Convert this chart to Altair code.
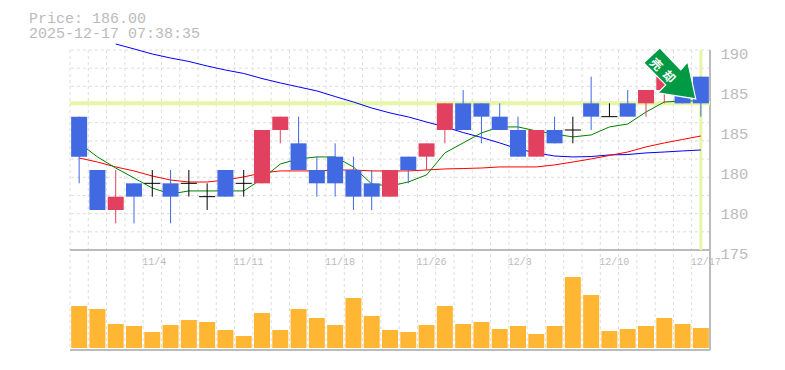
import altair as alt
import pandas as pd

body_top = [185,181,179,180,180,180,180,179,181,180,184,185,183,181,182,181,180,181,182,183,186,186,186,185,184,184,184,184,186,185,186,187,188,187,188]
body_bot = [182,178,178,179,180,179,180,179,179,180,180,184,181,180,180,179,179,179,181,182,184,184,185,184,182,182,183,184,185,185,185,186,187,186,186]
highs    = [185,181,181,180,181,181,181,180,181,181,184,185,185,182,183,182,181,181,182,183,186,187,186,186,185,184,185,185,188,186,187,187,188,187,188]
lows     = [180,178,177,177,179,177,179,178,179,179,180,183,181,179,179,178,178,179,180,181,183,184,183,184,182,182,183,183,184,185,185,185,186,186,185]
kinds    = ["d","d","u","d","n","d","n","n","d","n","u","u","d","d","d","d","d","u","d","u","u","d","d","d","d","u","d","n","d","n","d","u","u","d","d"]

ma_blue = [None,None,190.45,190.08,189.7,189.4,189.14,188.8,188.5,188.24,187.86,187.53,187.23,186.93,186.51,186.1,185.65,185.28,184.98,184.6,184.23,183.81,183.44,183.03,182.58,182.28,182.05,181.98,182.01,182.13,182.16,182.28,182.35,182.43,182.5]
ma_red = [181.9,181.6,181.23,180.93,180.55,180.25,180.1,180.1,180.25,180.48,180.78,180.93,180.93,180.93,181,181,180.93,180.93,180.93,181,181.08,181.11,181.15,181.23,181.23,181.23,181.38,181.6,181.83,182.09,182.35,182.73,183.03,183.29,183.55]
ma_green = [183.03,181.98,181.15,180.4,179.65,179.2,179.43,179.43,179.43,179.43,180.33,181.45,181.83,181.98,181.98,181.23,179.95,179.8,180.1,180.63,182.28,183.03,183.78,184.23,184.23,183.93,183.7,183.48,183.63,184.23,184.45,185.35,186.1,186.18,186.18]
volumes = [42,39,24,22,16,23,28,26,18,12,35,18,39,30,23,50,32,18,16,23,42,24,26,19,22,14,22,71,53,17,19,22,30,24,20]

date_pos = [4,9,14,19,24,29,34]
date_labels = ["11/4","11/11","11/18","11/26","12/3","12/10","12/17"]
price_ticks = [190,187,184,181,178,175]
price_labels = ["190","185","185","180","180","175"]
grid_levels = [175 + 15*k/11 for k in range(12)]
header = ["Price: 186.00","2025-12-17 07:38:35"]
last_price = 186
GRAY = "#bbbbbb"; GRID = "#dddddd"; FONT = "Liberation Mono"
BLUE = "#4169e1"; RED = "#e2405f"; ORANGE = "#ffb733"; LIME = "#e6f5a8"

n = len(kinds)
df = pd.DataFrame({"c": [i+0.5 for i in range(n)], "x0": [i+0.06 for i in range(n)], "x1": [i+0.94 for i in range(n)],
                   "top": body_top, "bot": body_bot, "hi": highs, "lo": lows, "kind": kinds,
                   "blue": ma_blue, "red": ma_red, "green": ma_green, "vol": volumes})

xs = alt.Scale(domain=[0,35], nice=False, zero=False, padding=0)
ps = alt.Scale(domain=[175,190], range=[200,0], nice=False, zero=False, padding=0)
vs = alt.Scale(domain=[-2,98], range=[300,200], nice=False, zero=False, padding=0)
X = lambda f: alt.X(f, type="quantitative", scale=xs, axis=None)
Y = lambda f, **k: alt.Y(f, type="quantitative", scale=ps, axis=k.get("axis"))
kcol = alt.Color("kind:N", scale=alt.Scale(domain=["d","u","n"], range=[BLUE,RED,"#000000"]), legend=None)

labelmap = "{" + ",".join(f"'{t}':'{l}'" for t,l in zip(price_ticks, price_labels)) + "}"
price_axis = alt.Axis(orient="right", values=price_ticks, labelExpr=f"{labelmap}[datum.value]", domain=False, ticks=False,
                      grid=False, title=None, labelFont=FONT, labelFontSize=15.5, labelColor=GRAY, labelPadding=10,
                      labelOffset=3, labelOverlap=False, labelFlush=False, labelBound=False)

hgrid = alt.Chart(pd.DataFrame({"v": grid_levels})).mark_rule(color=GRID, strokeDash=[3,3], strokeWidth=1).encode(
    y=Y("v", axis=price_axis))
vgrid = alt.Chart(pd.DataFrame({"v": list(range(35))})).mark_rule(color=GRID, strokeDash=[3,3], strokeWidth=1).encode(x=X("v"))
frame_h = alt.Chart(pd.DataFrame({"v": [175]})).mark_rule(color=GRAY, strokeWidth=2).encode(y=Y("v"))
frame_b = alt.Chart(pd.DataFrame({"v": [-2]})).mark_rule(color=GRAY, strokeWidth=2).encode(y=alt.Y("v:Q", scale=vs, axis=None))
frame_r = alt.Chart(pd.DataFrame({"v": [35]})).mark_rule(color=GRAY, strokeWidth=2).encode(x=X("v"))

lime_h = alt.Chart(pd.DataFrame({"v": [last_price]})).mark_rule(color=LIME, strokeWidth=4).encode(y=Y("v"))
lime_v = alt.Chart(pd.DataFrame({"x": [34.5], "a": [175], "b": [190]})).mark_rule(color=LIME, strokeWidth=3).encode(
    x=X("x"), y=Y("a"), y2="b:Q")

def ma(col, color):
    return alt.Chart(df.dropna(subset=[col])).mark_line(color=color, strokeWidth=1, clip=False).encode(x=X("c"), y=Y(col))

wicks = alt.Chart(df).mark_rule(strokeWidth=1).encode(x=X("c"), y=Y("lo"), y2="hi:Q", color=kcol)
bodies = alt.Chart(df[df.kind != "n"]).mark_bar(size=16).encode(x=X("c"), y=Y("top"), y2="bot:Q", color=kcol)
doji = alt.Chart(df[df.kind == "n"]).mark_rule(strokeWidth=1, color="#000000").encode(x=X("x0"), x2="x1:Q", y=Y("top"))

vol = alt.Chart(df).mark_bar(size=16, color=ORANGE).transform_calculate(base="0").encode(
    x=X("c"), y=alt.Y("vol:Q", scale=vs, axis=None), y2="base:Q")

dates = alt.Chart(pd.DataFrame({"p": date_pos, "t": date_labels})).mark_text(
    font=FONT, fontSize=10, color=GRAY, align="left", baseline="middle", dx=-1).encode(x=X("p"), y=alt.value(212), text="t:N")

hdr = alt.Chart(pd.DataFrame({"t": header, "y": [-32,-17]})).mark_text(
    font=FONT, fontSize=15, color=GRAY, align="left", baseline="middle").encode(x=alt.value(-41), y=alt.Y("y:Q", scale=None), text="t:N")

arrow_path = "M-10,-27L11,-5L18,-13L26,24L-12,18L-4,10L-26,-12Z"
arrow_df = pd.DataFrame({"x": [32.8], "y": [188.13]})
arrow = alt.Chart(arrow_df).mark_point(shape=arrow_path, size=4, filled=True, fill="#009944", stroke="#ffffff", strokeWidth=1.2, opacity=1).encode(x=X("x"), y=Y("y"))
sign = alt.Chart(pd.DataFrame({"x": [32.05,32.75], "y": [188.9,187.98], "t": ["売","却"]})).mark_text(
    font="Noto Sans CJK JP", fontWeight="bold", fontSize=12, color="#ffffff", angle=45, baseline="middle", align="center").encode(x=X("x"), y=Y("y"), text="t:N")

chart = alt.layer(hgrid, vgrid, frame_h, frame_b, frame_r, lime_h, lime_v, ma("blue","#0000ff"), ma("red","#ff0000"), ma("green","#008000"),
                  wicks, bodies, doji, vol, dates, hdr, arrow, sign).resolve_scale(y="independent", color="independent").properties(
    width=640, height=300, padding={"left":62,"top":42,"right":60,"bottom":10}, autosize="none", background="#ffffff"
).configure_view(stroke=None)

chart.save("out.html", embed_options={"renderer": "svg", "actions": False})
